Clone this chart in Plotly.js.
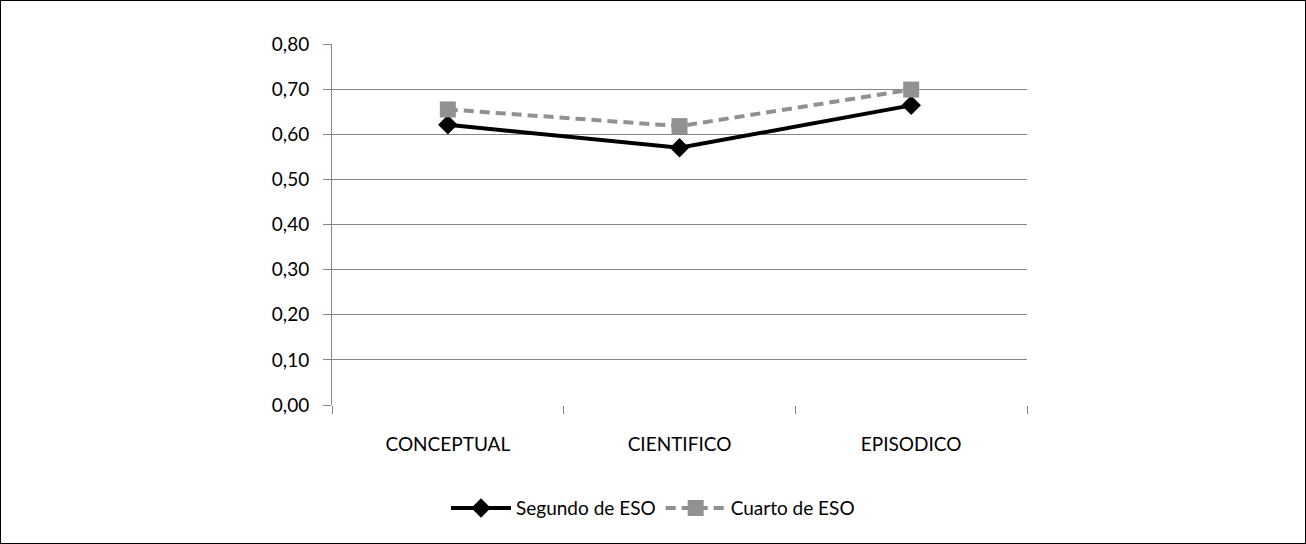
<!DOCTYPE html>
<html>
<head>
<meta charset="utf-8">
<script src="https://cdn.plot.ly/plotly-3.0.1.min.js"></script>
<style>
  html, body { margin: 0; padding: 0; background: #fff; }
  #wrap { position: relative; width: 1306px; height: 544px; }
  #chart { width: 1306px; height: 544px; }
  #frame { position: absolute; left: 0; top: 0; width: 1304px; height: 542px;
           border: 1px solid #000; pointer-events: none; }
</style>
</head>
<body>
<div id="wrap">
  <div id="chart"></div>
  <div id="frame"></div>
</div>
<script>
// Memory type categories
const categories = ['CONCEPTUAL', 'CIENTIFICO', 'EPISODICO'];
// Mean scores per course
const segundoESO = [0.621, 0.570, 0.664];
const cuartoESO = [0.655, 0.618, 0.699];
const seriesNames = ['Segundo de ESO', 'Cuarto de ESO'];
const yTicks = [0, 0.1, 0.2, 0.3, 0.4, 0.5, 0.6, 0.7, 0.8];

const FONT = 'Lato, "Liberation Sans", Arial, sans-serif';
const FSIZE = 19;
const GRID = '#868686';

const traces = [
  {
    x: categories, y: segundoESO, name: seriesNames[0],
    type: 'scatter', mode: 'lines+markers',
    line: { color: '#000000', width: 4 },
    marker: { symbol: 'diamond', size: 15, color: '#000000' }
  },
  {
    x: categories, y: cuartoESO, name: seriesNames[1],
    type: 'scatter', mode: 'lines+markers',
    line: { color: '#919191', width: 4, dash: '10px,6px' },
    marker: { symbol: 'square', size: 16, color: '#919191' }
  }
];

const layout = {
  width: 1306, height: 544,
  paper_bgcolor: '#ffffff', plot_bgcolor: '#ffffff',
  margin: { l: 332, r: 279, t: 44, b: 139 },
  font: { family: FONT, size: FSIZE, color: '#000000' },
  separators: ',.',
  showlegend: true,
  legend: {
    orientation: 'h', xref: 'container', yref: 'container',
    x: 0.5, xanchor: 'center', y: 0.066, yanchor: 'middle',
    font: { family: FONT, size: FSIZE, color: '#000000' },
    itemwidth: 60, tracegroupgap: 0
  },
  xaxis: {
    type: 'category', range: [-0.5, 2.5],
    showgrid: false, zeroline: false,
    showline: false,
    ticks: 'outside', tickson: 'boundaries', ticklen: 8, tickcolor: GRID, tickwidth: 1,
    tickfont: { family: FONT, size: FSIZE },
    ticklabelstandoff: 26
  },
  yaxis: {
    range: [0, 0.8], tickvals: yTicks, tickformat: '.2f',
    showgrid: true, gridcolor: GRID, gridwidth: 1,
    zeroline: false, showline: true, linecolor: GRID, linewidth: 1,
    ticks: 'outside', ticklen: 8, tickcolor: GRID, tickwidth: 1,
    tickfont: { family: FONT, size: FSIZE },
    ticklabelstandoff: 10
  }
};

Plotly.newPlot('chart', traces, layout, { displayModeBar: false, staticPlot: true });
</script>
</body>
</html>
